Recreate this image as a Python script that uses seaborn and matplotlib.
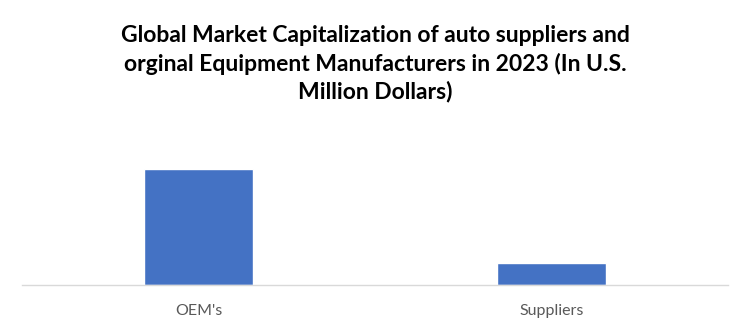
import matplotlib
matplotlib.use("Agg")
import matplotlib.pyplot as plt
import seaborn as sns
import pandas as pd

categories = ["OEM's", "Suppliers"]
values = [1160, 220]

sns.set_theme(style="white")
plt.rcParams['font.family'] = ['Lato', 'DejaVu Sans']

df = pd.DataFrame({"cat": categories, "val": values})

fig = plt.figure(figsize=(7.5, 3.34), dpi=100)
ax = fig.add_axes([22/750, (334-285)/334, 706/750, (285-130)/334])
sns.barplot(data=df, x="cat", y="val", color="#4472C4", width=0.31,
            saturation=1, ax=ax)
ax.set_xlim(-0.5, 1.5)
ax.set_ylim(0, values[0] * 155 / 116)
ax.set_xlabel("")
ax.set_ylabel("")
ax.set_yticks([])
for s in ["top", "right", "left"]:
    ax.spines[s].set_visible(False)
ax.spines["bottom"].set_color("#D9D9D9")
ax.spines["bottom"].set_linewidth(1)
ax.tick_params(axis="x", length=0, pad=14, labelsize=11.5, colors="#595959")

fig.text(0.5, 1 - 64/334, "Global Market Capitalization of auto suppliers and\norginal Equipment Manufacturers in 2023 (In U.S.\nMillion Dollars)",
         ha="center", va="center", fontsize=16.5, fontweight="bold",
         color="black", linespacing=1.36)

fig.savefig("out.png", dpi=100)
